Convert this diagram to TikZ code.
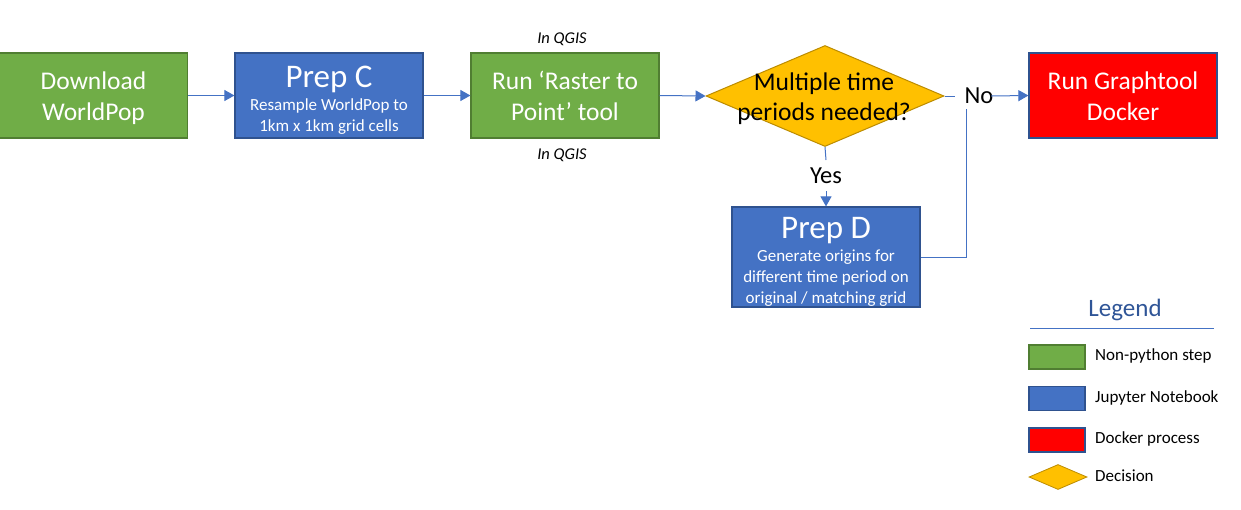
\documentclass[tikz,border=0pt]{standalone}
\usepackage{fontspec}
\setmainfont{Carlito}
\usetikzlibrary{arrows.meta,shapes.geometric}
\definecolor{gfill}{HTML}{70AD47}
\definecolor{gline}{HTML}{507E32}
\definecolor{bfill}{HTML}{4472C4}
\definecolor{bline}{HTML}{2F528F}
\definecolor{yfill}{HTML}{FFC000}
\definecolor{yline}{HTML}{BC8C00}
\definecolor{legc}{HTML}{2F5597}
\tikzset{
  box/.style={draw, line width=1.2pt, minimum width=188pt, minimum height=85pt, inner sep=0pt},
  greenbox/.style={box, fill=gfill, draw=gline},
  bluebox/.style={box, fill=bfill, draw=bline},
  redbox/.style={box, fill=red, draw=bline},
  conn/.style={draw=bfill, line width=1pt},
  arr/.style={conn, -{Triangle[length=10pt,width=11pt]}},
  swatch/.style={draw, line width=1.2pt, minimum width=56pt, minimum height=24pt, inner sep=0pt},
  txt/.style={anchor=base, inner sep=0pt},
  bigt/.style={txt, font=\fontsize{25.5}{30}\selectfont},
  whbig/.style={bigt, text=white},
  title/.style={txt, text=white, font=\fontsize{33}{36}\selectfont},
  sub/.style={txt, text=white, font=\fontsize{17}{20}\selectfont},
  qgis/.style={txt, font=\fontsize{16.5}{18}\selectfont\itshape},
  legtext/.style={anchor=base west, inner sep=0pt, font=\fontsize{17}{20}\selectfont},
}
\begin{document}
\begin{tikzpicture}[x=1pt,y=-1pt]
\useasboundingbox (0,0) rectangle (1241,509);
% main boxes
\node[greenbox] (dl) at (93.5,95.5) {};
\node[whbig] (dl1) at (93.5,89) {Download};
\node[whbig] (dl2) at (93.5,120) {WorldPop};
\node[bluebox] (pc) at (329,95.5) {};
\node[title] (pct) at (329,87.5) {Prep C};
\node[sub] (pc1) at (329,110.5) {Resample WorldPop to};
\node[sub] (pc2) at (329,131.5) {1km x 1km grid cells};
\node[greenbox] (rp) at (565,95.5) {};
\node[whbig] (rp1) at (565,89) {Run ‘Raster to};
\node[whbig] (rp2) at (565,120) {Point’ tool};
\node[qgis] (q1) at (562,43) {In QGIS};
\node[qgis] (q2) at (562,159) {In QGIS};
% decision
\node[diamond, fill=yfill, draw=yline, line width=1pt, minimum width=238pt, minimum height=101pt, inner sep=0pt] (dec) at (825,96) {};
\node[bigt] (dec1) at (824,90) {Multiple time};
\node[bigt] (dec2) at (824,120) {periods needed?};
\node[redbox] (dk) at (1123,95.5) {};
\node[whbig] (dk1) at (1123,89) {Run Graphtool};
\node[whbig] (dk2) at (1123,120) {Docker};
\node[bluebox, minimum height=100pt] (pd) at (826,257) {};
\node[title] (pdt) at (826,238.5) {Prep D};
\node[sub] (pd1) at (826,261.5) {Generate origins for};
\node[sub] (pd2) at (826,282.5) {different time period on};
\node[sub] (pd3) at (826,303.5) {original / matching grid};
% labels
\node[txt, font=\fontsize{24.5}{28}\selectfont] (no) at (979,103.5) {No};
\node[txt, font=\fontsize{24.5}{28}\selectfont] (yes) at (826,183.5) {Yes};
% connectors
\draw[arr] (dl.east) -- (pc.west);
\draw[arr] (pc.east) -- (rp.west);
\draw[arr] (rp.east) -- (dec.west);
\coordinate (noL) at (955,96);
\coordinate (noR) at (991,96);
\draw[conn] (dec.east) -- (noL);
\draw[arr] (noR) -- (dk.west);
\coordinate (yesT) at (826,160);
\coordinate (yesB) at (826,191);
\draw[conn] (dec.south) -- (yesT);
\draw[arr] (yesB) -- (pd.north);
\coordinate (ret) at (966,109);
\draw[conn] (pd.east) -| (ret);
% legend
\node[txt, font=\fontsize{25}{28}\selectfont, text=legc] (lg) at (1125,316) {Legend};
\coordinate (lgL) at (1030,328);
\coordinate (lgR) at (1214,328);
\draw[conn] (lgL) -- (lgR);
\node[swatch, fill=gfill, draw=gline] (s1) at (1057,357) {};
\node[swatch, fill=bfill, draw=bline] (s2) at (1057,398.5) {};
\node[swatch, fill=red, draw=bline] (s3) at (1057,440) {};
\node[diamond, fill=yfill, draw=yline, line width=0.8pt, minimum width=58pt, minimum height=25pt, inner sep=0pt] (s4) at (1058,477) {};
\node[legtext] (l1) at (1095,360.5) {Non-python step};
\node[legtext] (l2) at (1095,402.5) {Jupyter Notebook};
\node[legtext] (l3) at (1095,443.5) {Docker process};
\node[legtext] (l4) at (1095,481.5) {Decision};
\end{tikzpicture}
\end{document}
